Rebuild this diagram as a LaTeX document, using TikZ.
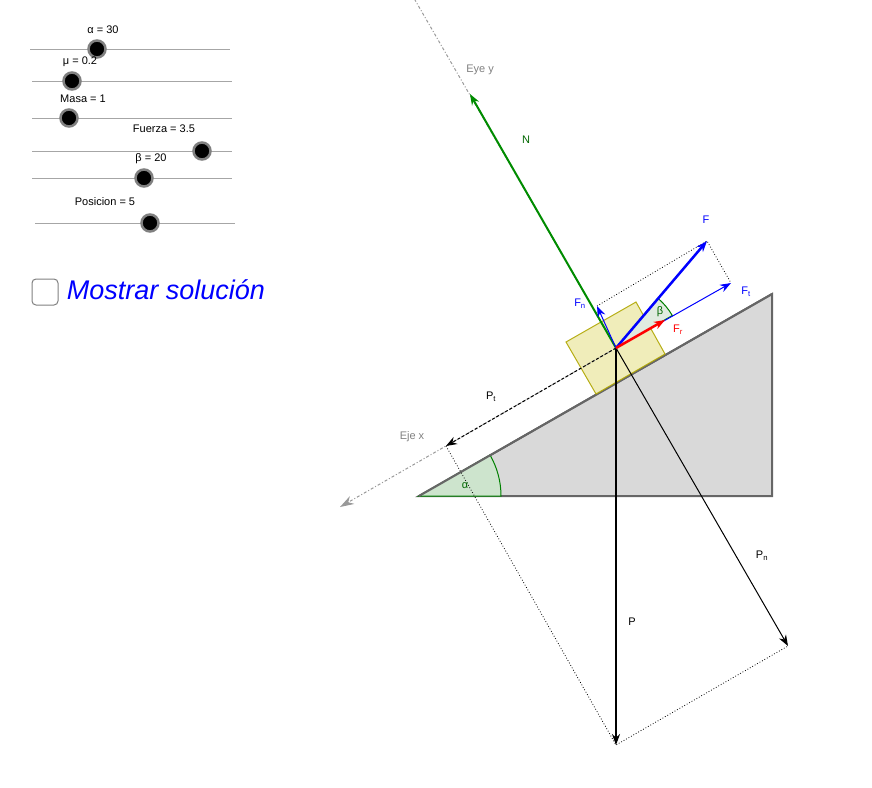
\documentclass[tikz,border=0pt]{standalone}
\usepackage{fontspec}
\setmainfont{Liberation Sans}
\usetikzlibrary{arrows.meta}
\begin{document}
\begin{tikzpicture}[x=1pt,y=-1pt, line width=1pt,
    force/.style ={-{Stealth[length=11pt,width=8pt]}},
    aux/.style ={dotted, line width=0.8pt},
    axis/.style ={gray!80, dash dot, line width=1pt},
    lbl/.style ={font=\fontsize{11}{12}\selectfont, inner sep=1pt},
    knob/.style ={circle, draw=gray, fill=black, line width=2.5pt, minimum size=17pt, inner sep=0pt},
    rail/.style ={gray!70, line width=1pt}]
   \useasboundingbox (0,0) rectangle (872,787);
   % sliders
   \foreach \ya/\xa/\xb/\xk/\xl/\yl/\txt in {49/30/230/97/103/30/{α = 30},
        81/32/232/72/80/62/{μ = 0.2}, 118/32/232/69/83/99/{Masa = 1},
        151/32/232/202/164/129/{Fuerza = 3.5}, 178/32/232/144/151/159/{β = 20},
        223/35/235/150/105/202/{Posicion = 5}}{
     \draw[rail] (\xa,\ya) -- (\xb,\ya);
     \node[knob] at (\xk,\ya) {};
     \node[lbl] at (\xl,\yl) {\txt};
   }
   \draw[gray, rounded corners=4pt] (32,279) rectangle (58,305);
   \node[font=\fontsize{27}{30}\selectfont\itshape, text=blue, anchor=west] (msol) at (63,290) {Mostrar solución};

   \coordinate (O) at (616,348);
   % incline
   \filldraw[fill=gray!30, draw=gray!80!black, line width=2pt] (419,496) -- (772,496) -- (772,294) -- cycle;
   \filldraw[fill=green!30!gray!30, draw=green!50!black] (419,496) -- (501,496) arc[start angle=0, end angle=-30, radius=82] -- cycle;
   \draw[gray!80!black, line width=2pt] (419,496) -- (772,294);
   % block
   \filldraw[fill=yellow!40!olive!25, draw=olive!70!yellow, opacity=0.9] (566,342) -- (636,302) -- (665,354) -- (596,394) -- cycle;
   % axes
   \coordinate (ey) at (415,0);
   \coordinate (ex) at (340,507);
   \draw[axis] (O) -- (ey);
   \draw[axis, -{Stealth[length=14pt,width=9pt]}] (O) -- (ex);
   \node[lbl, gray] at (480,70) {Eye y};
   \node[lbl, gray] at (412,437) {Eje x};
   % forces
   \coordinate (P) at (616,745);
   \coordinate (Pn) at (788,646);
   \coordinate (Pt) at (446,446);
   \coordinate (N) at (470,94);
   \coordinate (F) at (707,241);
   \coordinate (Ft) at (731,283);
   \coordinate (Fn) at (597,306);
   \coordinate (Fr) at (665,320);
   \draw[aux] (Pt) -- (P) -- (Pn);
   \draw[aux] (Fn) -- (F) -- (Ft);
   \filldraw[fill=green!20!gray!20, draw=green!50!black] (O) ++(-30:65) arc[start angle=-30, end angle=-50, radius=65] -- (O) -- cycle;
   \draw[force, black, line width=2.5pt] (O) -- (P);
   \draw[force, black] (O) -- (Pn);
   \draw[force, black, densely dashed] (O) -- (Pt);
   \draw[force, green!55!black, line width=2pt] (O) -- (N);
   \draw[force, blue] (O) -- (Ft);
   \draw[force, blue] (O) -- (Fn);
   \draw[force, blue, line width=2.5pt] (O) -- (F);
   \draw[force, red, line width=2.5pt] (O) -- (Fr);
   % labels
   \node[lbl, green!40!black] at (526,140) {N};
   \node[lbl, blue] at (706,220) {F};
   \node[lbl, blue] at (746,292) {F$_\mathrm{t}$};
   \node[lbl, blue] at (580,304) {F$_\mathrm{n}$};
   \node[lbl, green!40!black] at (660,312) {β};
   \node[lbl, red] at (678,330) {F$_\mathrm{r}$};
   \node[lbl] at (491,397) {P$_\mathrm{t}$};
   \node[lbl, green!40!black] at (465,486) {α};
   \node[lbl] at (762,556) {P$_\mathrm{n}$};
   \node[lbl] at (632,622) {P};
\end{tikzpicture}
\end{document}
